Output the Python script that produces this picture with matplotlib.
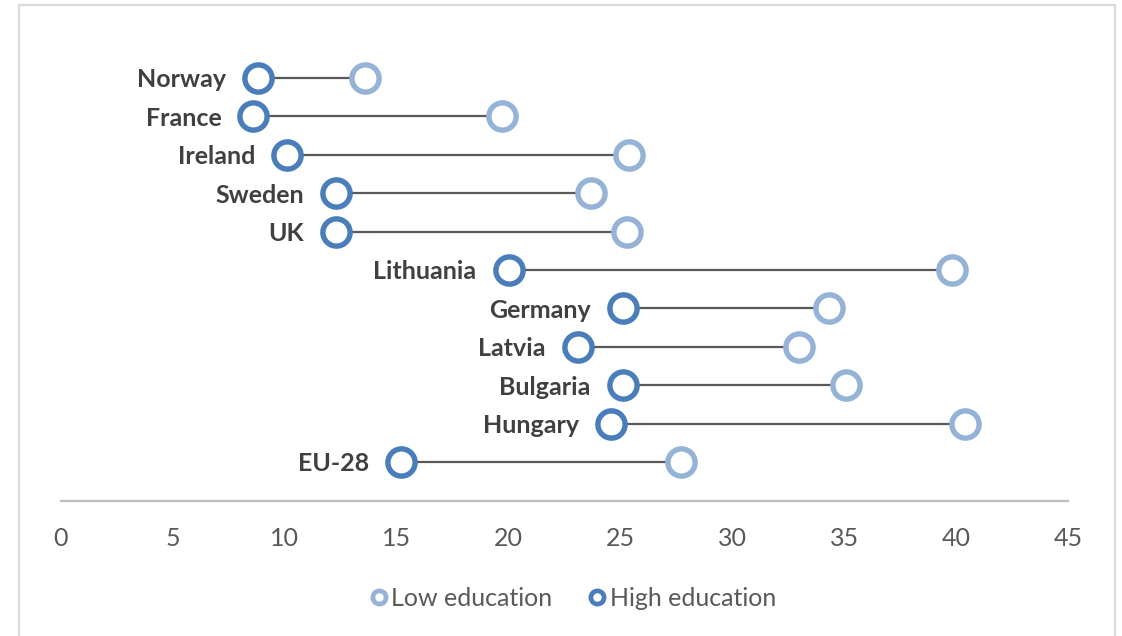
import matplotlib
matplotlib.use("Agg")
import matplotlib.pyplot as plt
from matplotlib.lines import Line2D
from matplotlib.patches import Rectangle

plt.rcParams["font.family"] = ["Lato", "DejaVu Sans"]

countries = ["Norway", "France", "Ireland", "Sweden", "UK", "Lithuania",
             "Germany", "Latvia", "Bulgaria", "Hungary", "EU-28"]
high_education = [8.8, 8.6, 10.1, 12.3, 12.3, 20.0, 25.1, 23.1, 25.1, 24.6, 15.2]
low_education = [13.6, 19.7, 25.4, 23.7, 25.3, 39.8, 34.3, 33.0, 35.1, 40.4, 27.7]
x_ticks = [0, 5, 10, 15, 20, 25, 30, 35, 40, 45]

DARK = "#4A7EBB"
LIGHT = "#95B3D7"

W, H = 1122, 636
fig = plt.figure(figsize=(W / 100, H / 100), dpi=100)

# chart area border
fig.patches.append(Rectangle((19 / W, -0.05), (1115 - 19) / W, 1.05 - 5 / H,
                             transform=fig.transFigure, fill=False,
                             edgecolor="#D9D9D9", linewidth=1.6))

ax_left, ax_right = 61 / W, 1068 / W
ax_bottom, ax_top = 1 - 500.5 / H, 1 - 39.6 / H
ax = fig.add_axes([ax_left, ax_bottom, ax_right - ax_left, ax_top - ax_bottom])

n = len(countries)
ypos = [n - 1 - i for i in range(n)]

for y, hi, lo, name in zip(ypos, high_education, low_education, countries):
    ax.plot([hi, lo], [y, y], color="#595959", linewidth=1.6, zorder=1)
    ax.annotate(name, xy=(hi, y), xytext=(-23, -1.3), textcoords="offset points",
                ha="right", va="center", fontsize=18, fontweight="bold",
                color="#404040")

ms, mew = 19.6, 3.9
ax.plot(low_education, ypos, linestyle="none", marker="o", markersize=ms,
        markerfacecolor="white", markeredgecolor=LIGHT, markeredgewidth=mew,
        zorder=3)
ax.plot(high_education, ypos, linestyle="none", marker="o", markersize=ms,
        markerfacecolor="white", markeredgecolor=DARK, markeredgewidth=mew,
        zorder=4)

ax.set_xlim(0, 45)
ax.set_ylim(-1, 11)
ax.set_xticks(x_ticks)
ax.set_yticks([])
for side in ["top", "right", "left"]:
    ax.spines[side].set_visible(False)
ax.spines["bottom"].set_color("#BFBFBF")
ax.spines["bottom"].set_linewidth(1.6)
ax.tick_params(axis="x", length=0, pad=19, labelsize=18, labelcolor="#595959")
ax.set_facecolor("none")

handles = [
    Line2D([], [], linestyle="none", marker="o", markersize=9.5,
           markerfacecolor="white", markeredgecolor=LIGHT, markeredgewidth=3.4,
           label="Low education"),
    Line2D([], [], linestyle="none", marker="o", markersize=9.5,
           markerfacecolor="white", markeredgecolor=DARK, markeredgewidth=3.4,
           label="High education"),
]
leg = fig.legend(handles=handles, loc="center", bbox_to_anchor=(571 / W, 1 - 598.5 / H),
                 ncol=2, frameon=False, fontsize=18, handletextpad=0.0,
                 columnspacing=1.3, handlelength=1.0)
for t in leg.get_texts():
    t.set_color("#595959")

fig.savefig("out.png", dpi=100)
